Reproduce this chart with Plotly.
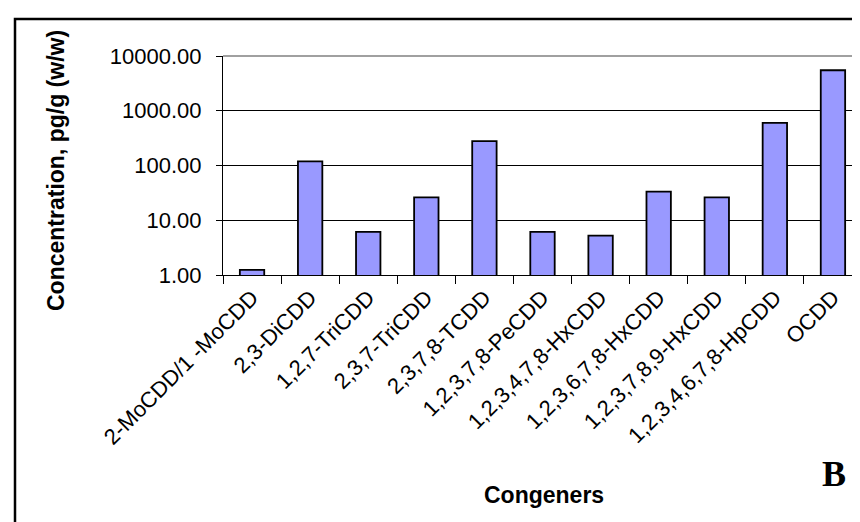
import plotly.graph_objects as go

congeners = ["2-MoCDD/1 -MoCDD", "2,3-DiCDD", "1,2,7-TriCDD", "2,3,7-TriCDD",
             "2,3,7,8-TCDD", "1,2,3,7,8-PeCDD", "1,2,3,4,7,8-HxCDD",
             "1,2,3,6,7,8-HxCDD", "1,2,3,7,8,9-HxCDD", "1,2,3,4,6,7,8-HpCDD", "OCDD"]
concentration = [1.24, 119, 6.15, 26.1, 279, 6.15, 5.26, 33.2, 26.1, 601, 5495]
y_tick_values = [1, 10, 100, 1000, 10000]
y_tick_labels = ["1.00", "10.00", "100.00", "1000.00", "10000.00"]

FONT = "Liberation Sans, Arial, sans-serif"

fig = go.Figure(go.Bar(
    x=congeners, y=concentration, width=0.42,
    marker=dict(color="#9999FF", line=dict(color="#000000", width=1.8)),
))

L, R, T, B = 215, 6, 48, 255
W, H = 860, 522
pw, ph = W - L - R, H - T - B

def px(x):
    return (x - L) / pw

def py(y):
    return (T + ph - y) / ph

fig.update_layout(
    width=W, height=H,
    margin=dict(l=L, r=R, t=T, b=B, pad=0),
    paper_bgcolor="white", plot_bgcolor="white",
    showlegend=False,
    font=dict(family=FONT, color="black"),
    xaxis=dict(
        type="category", tickson="boundaries", ticks="outside", ticklen=8,
        tickcolor="#000000", tickwidth=1, tickangle=-45,
        tickfont=dict(size=22, family=FONT, color="black"),
        showline=True, linecolor="#000000", linewidth=1, mirror=False,
        showgrid=False, zeroline=False,
    ),
    yaxis=dict(
        type="log", range=[0, 4], tickvals=y_tick_values, ticktext=y_tick_labels,
        ticks="outside", ticklen=6, tickcolor="#000000", tickwidth=1,
        tickfont=dict(size=22, family=FONT, color="black"),
        ticklabelstandoff=10,
        showline=True, linecolor="#000000", linewidth=1,
        showgrid=True, gridcolor="#000000", gridwidth=1, zeroline=False,
    ),
    shapes=[
        # gray plot border top and right
        dict(type="line", xref="paper", yref="paper", x0=0, x1=1, y0=1, y1=1,
             line=dict(color="#808080", width=1.5)),
        dict(type="line", xref="paper", yref="paper", x0=1, x1=1, y0=0, y1=1,
             line=dict(color="#808080", width=1.5)),
        # outer frame
        dict(type="rect", xref="paper", yref="paper",
             x0=px(7), x1=px(880), y0=py(540), y1=py(11),
             line=dict(color="#000000", width=2.5), fillcolor="rgba(0,0,0,0)"),
    ],
    annotations=[
        dict(text="<b>Concentration, pg/g (w/w)</b>", xref="paper", yref="paper",
             x=px(48), y=py(163), textangle=-90, showarrow=False,
             font=dict(size=23, family=FONT, color="black"),
             xanchor="center", yanchor="middle"),
        dict(text="<b>Congeners</b>", xref="paper", yref="paper",
             x=px(536), y=py(487), showarrow=False,
             font=dict(size=23, family=FONT, color="black"),
             xanchor="center", yanchor="middle"),
        dict(text="<b>B</b>", xref="paper", yref="paper",
             x=px(826), y=py(466), showarrow=False,
             font=dict(size=36, family="Liberation Serif, Times New Roman, serif", color="black"),
             xanchor="center", yanchor="middle"),
    ],
)

fig.write_html("out.html")
